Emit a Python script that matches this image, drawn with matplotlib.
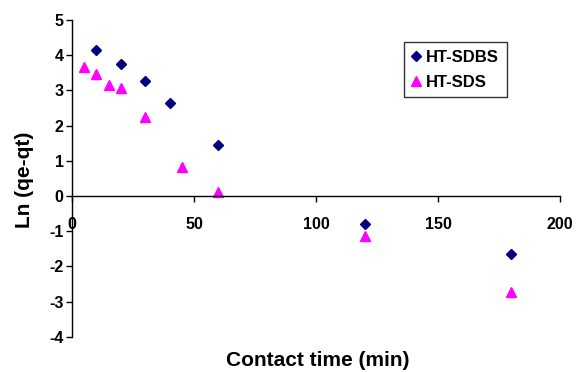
import matplotlib.pyplot as plt

plt.rcParams['font.family'] = ['Liberation Sans', 'DejaVu Sans']
plt.rcParams['font.weight'] = 'bold'
plt.rcParams['axes.unicode_minus'] = False

# kinetic data, ln(qe - qt) vs contact time
time_sdbs = [10, 20, 30, 40, 60, 120, 180]
ln_sdbs = [4.15, 3.75, 3.27, 2.65, 1.44, -0.80, -1.65]

time_sds = [5, 10, 15, 20, 30, 45, 60, 120, 180]
ln_sds = [3.67, 3.48, 3.15, 3.06, 2.24, 0.82, 0.10, -1.13, -2.74]

xticks = [0, 50, 100, 150, 200]
yticks = [-4, -3, -2, -1, 0, 1, 2, 3, 4, 5]

fig = plt.figure(figsize=(5.77, 3.72), dpi=100)
ax = fig.add_axes([0.1248, 0.0946, 0.8457, 0.8516])

ax.plot(time_sdbs, ln_sdbs, 'D', color='#000080', ms=4.6, mec='#000080',
        label='HT-SDBS', clip_on=False)
ax.plot(time_sds, ln_sds, '^', color='#FF00FF', ms=7, mec='#FF00FF',
        label='HT-SDS', clip_on=False)

ax.set_xlim(0, 200)
ax.set_ylim(-4, 5)
ax.set_xticks(xticks)
ax.set_yticks(yticks)

ax.spines['top'].set_visible(False)
ax.spines['right'].set_visible(False)
ax.spines['bottom'].set_position(('data', 0))
for s in ['left', 'bottom']:
    ax.spines[s].set_linewidth(1.0)
ax.tick_params(direction='out', length=4, width=1.0, labelsize=11.5)
ax.tick_params(axis='x', pad=11)
ax.tick_params(axis='y', pad=2)

for lab in ax.get_xticklabels() + ax.get_yticklabels():
    lab.set_fontweight('bold')

fig.text(0.042, 0.5175, 'Ln (qe-qt)', rotation=90, ha='center', va='center',
         fontsize=15, fontweight='bold')
fig.text(0.550, 0.030, 'Contact time (min)', ha='center', va='center',
         fontsize=15, fontweight='bold')

leg = ax.legend(loc='upper left', bbox_to_anchor=(0.680, 0.93), frameon=True,
                fancybox=False, edgecolor='black', fontsize=12,
                handlelength=0.6, handletextpad=0.3, borderpad=0.45,
                labelspacing=0.6, borderaxespad=0)
leg.get_frame().set_linewidth(1.0)
for t in leg.get_texts():
    t.set_fontweight('bold')

fig.savefig('out.png', dpi=100)
